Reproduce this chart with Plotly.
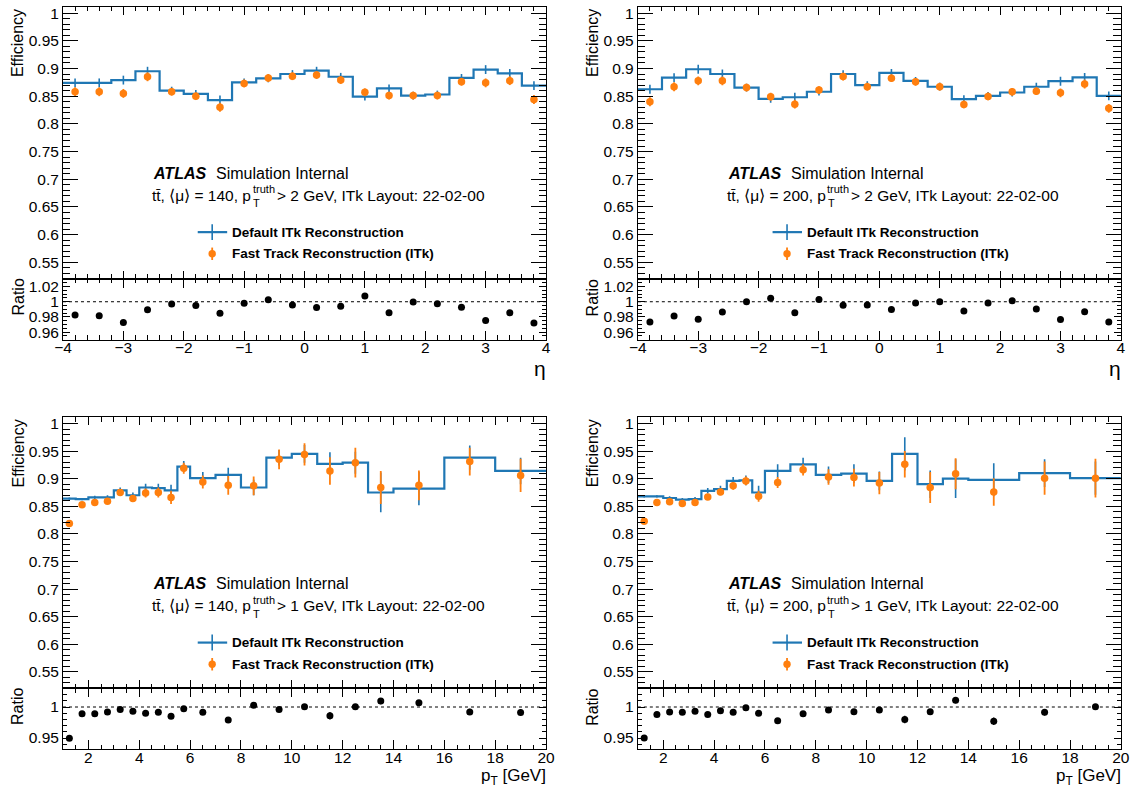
import plotly.graph_objects as go

# ---------------- data ----------------
eta_edges = [-4.0, -3.6, -3.2, -2.8, -2.4, -2.0, -1.6, -1.2, -0.8, -0.4, 0.0,
             0.4, 0.8, 1.2, 1.6, 2.0, 2.4, 2.8, 3.2, 3.6, 4.0]
pt_edges = [1, 1.5, 2, 2.5, 3, 3.5, 4, 4.5, 5, 5.5, 6, 7, 8, 9, 10, 11, 12, 13, 14, 16, 18, 20]

# mu=140, pT>2 GeV, vs eta
eta140_default = [0.874, 0.874, 0.879, 0.895, 0.860, 0.854, 0.843, 0.875, 0.882, 0.890,
                  0.896, 0.885, 0.849, 0.864, 0.851, 0.853, 0.883, 0.898, 0.891, 0.869]
eta140_default_err = [0.008, 0.008, 0.008, 0.008, 0.007, 0.007, 0.008, 0.007, 0.007, 0.007,
                      0.007, 0.007, 0.007, 0.007, 0.007, 0.007, 0.007, 0.008, 0.008, 0.008]
eta140_fast = [0.858, 0.858, 0.855, 0.885, 0.858, 0.850, 0.830, 0.873, 0.883, 0.886,
               0.888, 0.879, 0.857, 0.851, 0.851, 0.851, 0.876, 0.874, 0.878, 0.844]
eta140_fast_err = [0.008, 0.008, 0.008, 0.008, 0.007, 0.007, 0.008, 0.007, 0.007, 0.007,
                   0.007, 0.007, 0.007, 0.007, 0.007, 0.007, 0.007, 0.008, 0.008, 0.008]
eta140_ratio = [0.9826, 0.9817, 0.9728, 0.9894, 0.9970, 0.9950, 0.9847, 0.9980, 1.0026, 0.9957,
                0.9923, 0.9940, 1.0077, 0.9855, 0.9996, 0.9974, 0.9928, 0.9753, 0.9855, 0.9719]
eta140_ratio_err = [0.0015] * 20

# mu=200, pT>2 GeV, vs eta
eta200_default = [0.8625, 0.8835, 0.8986, 0.890, 0.8655, 0.845, 0.848, 0.858, 0.890, 0.870,
                  0.892, 0.8776, 0.867, 0.8445, 0.8505, 0.8566, 0.867, 0.877, 0.884, 0.8505]
eta200_default_err = [0.008, 0.008, 0.008, 0.008, 0.007, 0.007, 0.008, 0.007, 0.007, 0.007,
                      0.007, 0.007, 0.007, 0.007, 0.007, 0.007, 0.007, 0.008, 0.008, 0.008]
eta200_fast = [0.840, 0.867, 0.8776, 0.8776, 0.8655, 0.849, 0.8355, 0.861, 0.8854, 0.867,
               0.8824, 0.876, 0.867, 0.835, 0.8494, 0.8578, 0.859, 0.856, 0.872, 0.828]
eta200_fast_err = [0.008, 0.008, 0.008, 0.008, 0.007, 0.007, 0.008, 0.007, 0.007, 0.007,
                   0.007, 0.007, 0.007, 0.007, 0.007, 0.007, 0.007, 0.008, 0.008, 0.008]
eta200_ratio = [0.9732, 0.9813, 0.9770, 0.9864, 1.0000, 1.0047, 0.9855, 1.0030, 0.9953, 0.9957,
                0.9898, 0.9983, 1.0000, 0.9877, 0.9983, 1.0013, 0.9906, 0.9766, 0.9868, 0.9732]
eta200_ratio_err = [0.0015] * 20

# mu=140, pT>1 GeV, vs pT
pt140_default = [0.864, 0.863, 0.866, 0.866, 0.879, 0.870, 0.884, 0.883, 0.879, 0.922, 0.901,
                 0.907, 0.884, 0.938, 0.945, 0.927, 0.929, 0.875, 0.882, 0.938, 0.914]
pt140_default_err = [0.002, 0.002, 0.003, 0.004, 0.005, 0.005, 0.007, 0.008, 0.010, 0.010, 0.011,
                     0.013, 0.014, 0.014, 0.016, 0.021, 0.020, 0.036, 0.030, 0.022, 0.024]
pt140_fast = [0.819, 0.853, 0.857, 0.859, 0.875, 0.864, 0.874, 0.875, 0.866, 0.919, 0.894,
              0.888, 0.887, 0.935, 0.944, 0.914, 0.929, 0.884, 0.888, 0.931, 0.906]
pt140_fast_err = [0.002, 0.003, 0.003, 0.004, 0.005, 0.006, 0.008, 0.009, 0.012, 0.010, 0.012,
                  0.017, 0.017, 0.018, 0.020, 0.025, 0.027, 0.030, 0.027, 0.025, 0.030]
pt140_ratio = [0.9495, 0.989, 0.989, 0.992, 0.996, 0.993, 0.990, 0.9915, 0.985, 0.997, 0.9915,
               0.979, 1.003, 0.996, 1.0005, 0.986, 1.0005, 1.0096, 1.007, 0.992, 0.991]
pt140_ratio_err = [0.001, 0.001, 0.001, 0.001, 0.001, 0.001, 0.002, 0.002, 0.002, 0.002, 0.002,
                   0.003, 0.002, 0.002, 0.002, 0.006, 0.003, 0.005, 0.003, 0.005, 0.005]

# mu=200, pT>1 GeV, vs pT
pt200_default = [0.868, 0.868, 0.865, 0.862, 0.863, 0.878, 0.881, 0.896, 0.897, 0.875, 0.914,
                 0.926, 0.907, 0.909, 0.896, 0.945, 0.890, 0.900, 0.898, 0.910, 0.901]
pt200_default_err = [0.002, 0.002, 0.003, 0.003, 0.004, 0.005, 0.006, 0.007, 0.009, 0.012, 0.012,
                     0.012, 0.015, 0.017, 0.017, 0.030, 0.025, 0.035, 0.030, 0.025, 0.030]
pt200_fast = [0.823, 0.857, 0.858, 0.855, 0.857, 0.867, 0.876, 0.887, 0.896, 0.868, 0.893,
              0.916, 0.903, 0.902, 0.892, 0.926, 0.884, 0.909, 0.876, 0.901, 0.901]
pt200_fast_err = [0.003, 0.003, 0.003, 0.004, 0.004, 0.005, 0.006, 0.007, 0.008, 0.010, 0.010,
                  0.010, 0.014, 0.016, 0.020, 0.024, 0.028, 0.028, 0.025, 0.030, 0.035]
pt200_ratio = [0.950, 0.988, 0.992, 0.9915, 0.993, 0.988, 0.994, 0.9915, 0.999, 0.990, 0.978,
               0.989, 0.995, 0.9925, 0.995, 0.980, 0.9925, 1.011, 0.977, 0.9915, 1.0005]
pt200_ratio_err = [0.001, 0.001, 0.001, 0.001, 0.001, 0.001, 0.002, 0.002, 0.002, 0.002, 0.003,
                   0.002, 0.002, 0.002, 0.002, 0.006, 0.004, 0.005, 0.006, 0.005, 0.003]

series_labels = ["Default ITk Reconstruction", "Fast Track Reconstruction (ITk)"]

# ---------------- style ----------------
W, H = 1141, 798
FONT = "Liberation Sans, Arial, Helvetica, sans-serif"
BLUE = "#1f77b4"
ORANGE = "#ff7f0e"

# horizontal calibration of the capture (observed: screen_x ~= 7.9 + 0.9862 * page_x)
CX0, CXS = 7.9, 0.9862


def fx(p):
    return ((p - CX0) / CXS) / W


def fy(p):
    return 1 - p / H


panels = [
    dict(kind="eta", edges=eta_edges, d=eta140_default, de=eta140_default_err, f=eta140_fast,
         fe=eta140_fast_err, r=eta140_ratio, re=eta140_ratio_err, mu="140", thr="2",
         xpx=(62, 546), main=(5, 278), ratio=(278, 339)),
    dict(kind="eta", edges=eta_edges, d=eta200_default, de=eta200_default_err, f=eta200_fast,
         fe=eta200_fast_err, r=eta200_ratio, re=eta200_ratio_err, mu="200", thr="2",
         xpx=(638, 1122), main=(5, 278), ratio=(278, 339)),
    dict(kind="pt", edges=pt_edges, d=pt140_default, de=pt140_default_err, f=pt140_fast,
         fe=pt140_fast_err, r=pt140_ratio, re=pt140_ratio_err, mu="140", thr="1",
         xpx=(62, 546), main=(417, 689), ratio=(689, 750)),
    dict(kind="pt", edges=pt_edges, d=pt200_default, de=pt200_default_err, f=pt200_fast,
         fe=pt200_fast_err, r=pt200_ratio, re=pt200_ratio_err, mu="200", thr="1",
         xpx=(638, 1122), main=(417, 689), ratio=(689, 750)),
]

fig = go.Figure()
layout = dict(
    width=W, height=H, margin=dict(l=0, r=0, t=0, b=0, pad=0),
    paper_bgcolor="white", plot_bgcolor="white", showlegend=False,
    font=dict(family=FONT, size=15.5, color="black"),
)
annotations = []
shapes = []


def ann(text, x, y, size, xanchor="left", yanchor="middle", angle=0):
    annotations.append(dict(text=text, x=fx(x), y=fy(y), xref="paper", yref="paper",
                            xanchor=xanchor, yanchor=yanchor, textangle=angle,
                            showarrow=False, borderpad=0, font=dict(size=size)))


for i, p in enumerate(panels):
    im, ir = 2 * i + 1, 2 * i + 2
    xm = "x" if im == 1 else f"x{im}"
    ym = "y" if im == 1 else f"y{im}"
    xr, yr = f"x{ir}", f"y{ir}"
    edges = p["edges"]
    centers = [(a + b) / 2 for a, b in zip(edges[:-1], edges[1:])]

    if p["kind"] == "eta":
        xrange = [-4, 4]
        xdt, xminor, xt0 = 1, 0.2, 0
        rrange = [0.95, 1.03]
        rdt, rminor = 0.02, 0.005
    else:
        xrange = [1, 20]
        xdt, xminor, xt0 = 2, 0.5, 0
        rrange = [0.932, 1.03]
        rdt, rminor = 0.05, 0.01

    # default histogram (step line)
    fig.add_trace(go.Scatter(x=edges, y=p["d"] + [p["d"][-1]], mode="lines",
                             line=dict(color=BLUE, width=2.2, shape="hv"),
                             xaxis=xm, yaxis=ym, hoverinfo="skip"))
    # default error bars
    fig.add_trace(go.Scatter(x=centers, y=p["d"], mode="markers",
                             marker=dict(size=1, color=BLUE, opacity=0),
                             error_y=dict(type="data", array=p["de"], color=BLUE,
                                          thickness=1.6, width=0),
                             xaxis=xm, yaxis=ym, hoverinfo="skip"))
    # fast track points
    fig.add_trace(go.Scatter(x=centers, y=p["f"], mode="markers",
                             marker=dict(size=7.5, color=ORANGE),
                             error_y=dict(type="data", array=p["fe"], color=ORANGE,
                                          thickness=1.8, width=0),
                             xaxis=xm, yaxis=ym))
    # ratio points
    fig.add_trace(go.Scatter(x=centers, y=p["r"], mode="markers",
                             marker=dict(size=7, color="black"),
                             error_y=dict(type="data", array=p["re"], color="black",
                                          thickness=1.3, width=0),
                             xaxis=xr, yaxis=yr))

    xdom = [fx(p["xpx"][0]), fx(p["xpx"][1])]
    common = dict(showline=True, linecolor="black", linewidth=1, mirror="allticks",
                  ticks="inside", tickcolor="black", tickwidth=1, showgrid=False,
                  zeroline=False, tickfont=dict(family=FONT, size=15.5, color="black"))

    layout["xaxis" if im == 1 else f"xaxis{im}"] = dict(
        common, domain=xdom, anchor=ym, range=xrange, tick0=xt0, dtick=xdt,
        ticklen=8, showticklabels=False,
        minor=dict(ticks="inside", ticklen=4.5, dtick=xminor, tickcolor="black", showgrid=False))
    layout["yaxis" if im == 1 else f"yaxis{im}"] = dict(
        common, domain=[fy(p["main"][1]), fy(p["main"][0])], anchor=xm,
        range=[0.52, 1.011], tick0=0, dtick=0.05, ticklen=15,
        minor=dict(ticks="inside", ticklen=7.5, dtick=0.01, tickcolor="black", showgrid=False))
    layout[f"xaxis{ir}"] = dict(
        common, domain=xdom, anchor=yr, range=xrange, tick0=xt0, dtick=xdt,
        ticklen=9, showticklabels=True, ticklabelstandoff=-6,
        minor=dict(ticks="inside", ticklen=4.5, dtick=xminor, tickcolor="black", showgrid=False))
    layout[f"yaxis{ir}"] = dict(
        common, domain=[fy(p["ratio"][1]), fy(p["ratio"][0])], anchor=xr,
        range=rrange, tick0=0, dtick=rdt, ticklen=7,
        minor=dict(ticks="inside", ticklen=4, dtick=rminor, tickcolor="black", showgrid=False))

    # dashed unity line in ratio panel
    shapes.append(dict(type="line", xref=f"{xr} domain", x0=0, x1=1, yref=yr, y0=1, y1=1,
                       line=dict(color="black", width=1, dash="3px,3px"), layer="below"))

    dx = p["xpx"][0] - 62
    dy = p["main"][0] - 5
    # axis titles
    ann("Efficiency", 17 + dx, 6 + dy, 16, "center", "top", -90)
    ann("Ratio", 17 + dx, p["ratio"][0] - 1, 16, "center", "top", -90)
    if p["kind"] == "eta":
        ann("η", p["xpx"][1] + 1, p["ratio"][1] + 29, 21, "right", "middle")
    else:
        ann("p<sub>T</sub> [GeV]", p["xpx"][1] + 1, p["ratio"][1] + 16, 17, "right", "top")

    # ATLAS label
    ann("<b><i>ATLAS</i></b>", 151 + dx, 172 + dy, 16)
    ann("Simulation Internal", 214 + dx, 172 + dy, 16)
    ann("tt\u0304, \u27e8\u03bc\u27e9 = " + p["mu"] + ", p", 251.5 + dx, 194 + dy, 15.5,
        "right")
    ann("truth", 251 + dx, 188 + dy, 11)
    ann("T", 251.5 + dx, 202 + dy, 11)
    ann("> " + p["thr"] + " GeV, ITk Layout: 22-02-00", 275 + dx, 194 + dy, 15.5)

    # legend
    shapes.append(dict(type="line", xref="paper", yref="paper", x0=fx(197 + dx),
                       x1=fx(226.5 + dx), y0=fy(231 + dy), y1=fy(231 + dy),
                       line=dict(color=BLUE, width=2.2)))
    shapes.append(dict(type="line", xref="paper", yref="paper", x0=fx(211.5 + dx),
                       x1=fx(211.5 + dx), y0=fy(223 + dy), y1=fy(239 + dy),
                       line=dict(color=BLUE, width=1.6)))
    shapes.append(dict(type="line", xref="paper", yref="paper", x0=fx(211.5 + dx),
                       x1=fx(211.5 + dx), y0=fy(246.5 + dy), y1=fy(259 + dy),
                       line=dict(color=ORANGE, width=1.8)))
    shapes.append(dict(type="circle", xref="paper", yref="paper", x0=fx(207.8 + dx),
                       x1=fx(215.2 + dx), y0=fy(249 + dy), y1=fy(256.4 + dy),
                       fillcolor=ORANGE, line=dict(color=ORANGE, width=0)))
    ann("<b>" + series_labels[0] + "</b>", 230.5 + dx, 231 + dy, 13.5)
    ann("<b>" + series_labels[1] + "</b>", 230.5 + dx, 252.7 + dy, 13.5)

layout["annotations"] = annotations
layout["shapes"] = shapes
fig.update_layout(**layout)

fig.write_html(
    "out.html",
    config={"displayModeBar": False},
    post_script=("document.documentElement.style.margin='0';"
                 "document.body.style.margin='0';"
                 "document.documentElement.style.overflow='hidden';"
                 "document.body.style.overflow='hidden';"),
)
